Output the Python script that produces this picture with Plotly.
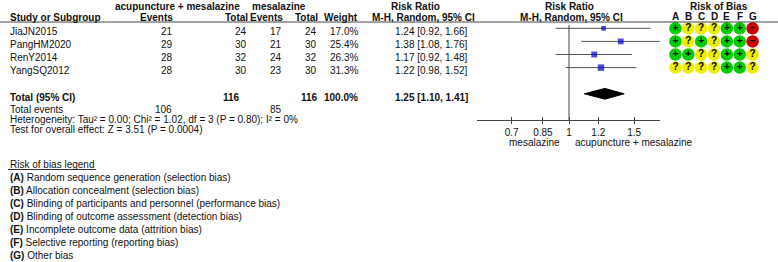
import plotly.graph_objects as go

# ---------------- data ----------------
studies = ["JiaJN2015", "PangHM2020", "RenY2014", "YangSQ2012"]
exp_events = [21, 29, 28, 28]
exp_total = [24, 30, 32, 30]
ctl_events = [17, 21, 24, 23]
ctl_total = [24, 30, 32, 30]
weights = [17.0, 25.4, 26.3, 31.3]
rr = [1.24, 1.38, 1.17, 1.22]
ci_low = [0.92, 1.08, 0.92, 0.98]
ci_high = [1.66, 1.76, 1.48, 1.52]

total_exp = 116
total_ctl = 116
total_weight = "100.0%"
total_events_exp = 106
total_events_ctl = 85
pooled_rr = 1.25
pooled_low = 1.10
pooled_high = 1.41
heterogeneity = "Heterogeneity: Tau² = 0.00; Chi² = 1.02, df = 3 (P = 0.80); I² = 0%"
overall_test = "Test for overall effect: Z = 3.51 (P = 0.0004)"

tick_vals = [0.7, 0.85, 1, 1.2, 1.5]
tick_text = ["0.7", "0.85", "1", "1.2", "1.5"]
favours_left = "mesalazine"
favours_right = "acupuncture + mesalazine"
exp_label = "acupuncture + mesalazine"
ctl_label = "mesalazine"

rob_domains = ["A", "B", "C", "D", "E", "F", "G"]
rob = [
    ["+", "?", "?", "?", "+", "+", "-"],
    ["+", "?", "+", "?", "+", "+", "-"],
    ["+", "+", "?", "?", "+", "+", "?"],
    ["?", "?", "?", "?", "+", "+", "?"],
]
legend_title = "Risk of bias legend"
legend_items = [
    ("A", "Random sequence generation (selection bias)"),
    ("B", "Allocation concealment (selection bias)"),
    ("C", "Blinding of participants and personnel (performance bias)"),
    ("D", "Blinding of outcome assessment (detection bias)"),
    ("E", "Incomplete outcome data (attrition bias)"),
    ("F", "Selective reporting (reporting bias)"),
    ("G", "Other bias"),
]

# ---------------- layout helpers ----------------
W, H = 778, 262
FONT = "Liberation Sans, Arial, sans-serif"
TXT = "#111111"


def px(x):
    return x / W


def py(y):
    return 1 - y / H


annotations = []


def add_text(text, x, y, anchor="left", bold=False, size=10):
    if bold:
        text = "<b>" + text + "</b>"
    annotations.append(dict(
        text=text, x=px(x), y=py(y), xref="paper", yref="paper",
        xanchor=anchor, yanchor="middle", showarrow=False,
        font=dict(family=FONT, size=size, color=TXT),
    ))


# header rows
add_text(exp_label, 177.5, 7, "center", True)
add_text(ctl_label, 279, 7, "center", True)
add_text("Risk Ratio", 415, 7, "center", True)
add_text("Risk Ratio", 569, 7, "center", True)
add_text("Risk of Bias", 719, 7, "center", True)

add_text("Study or Subgroup", 8, 17, "left", True)
add_text("Events", 175, 17, "right", True)
add_text("Total", 250, 17, "right", True)
add_text("Events", 285, 17, "right", True)
add_text("Total", 319.5, 17, "right", True)
add_text("Weight", 360, 17, "right", True)
add_text("M-H, Random, 95% CI", 423, 17, "center", True)
add_text("M-H, Random, 95% CI", 571.5, 17, "center", True)

# study rows
for i, s in enumerate(studies):
    y = 31.7 + 12.9 * i
    add_text(s, 8, y, "left")
    add_text(str(exp_events[i]), 174.5, y, "right")
    add_text(str(exp_total[i]), 248.5, y, "right")
    add_text(str(ctl_events[i]), 283.5, y, "right")
    add_text(str(ctl_total[i]), 319, y, "right")
    add_text(f"{weights[i]:.1f}%", 359.5, y, "right")
    add_text(f"{rr[i]:.2f} [{ci_low[i]:.2f}, {ci_high[i]:.2f}]", 470, y, "right")

# totals
add_text("Total (95% CI)", 8, 97.3, "left", True)
add_text(str(total_exp), 242, 97.3, "right", True)
add_text(str(total_ctl), 320, 97.3, "right", True)
add_text(total_weight, 360, 97.3, "right", True)
add_text(f"{pooled_rr:.2f} [{pooled_low:.2f}, {pooled_high:.2f}]", 470, 97.3, "right", True)
add_text("Total events", 8, 109.3, "left")
add_text(str(total_events_exp), 174, 109.3, "right")
add_text(str(total_events_ctl), 283.5, 109.3, "right")
add_text(heterogeneity, 8, 119.5, "left")
add_text(overall_test, 8, 129.5, "left")

# favours labels
add_text(favours_left, 562, 142, "right")
add_text(favours_right, 573, 142, "left")

# legend
add_text(legend_title, 8, 164, "left")
for j, (letter, desc) in enumerate(legend_items):
    add_text(f"<b>({letter})</b> {desc}", 8, 177 + 13.15 * j, "left")

# RoB column letters
for k, d in enumerate(rob_domains):
    annotations.append(dict(
        text="<b>" + d + "</b>", x=d, y=py(16.5), xref="x3", yref="paper",
        xanchor="center", yanchor="middle", showarrow=False,
        font=dict(family=FONT, size=10, color=TXT),
    ))

# ---------------- traces ----------------
fig = go.Figure()

# CI lines
xs, ys = [], []
for i in range(len(studies)):
    xs += [ci_low[i], ci_high[i], None]
    ys += [i, i, None]
fig.add_trace(go.Scatter(x=xs, y=ys, mode="lines", line=dict(color="#555555", width=1),
                         xaxis="x", yaxis="y", hoverinfo="skip", showlegend=False))

# squares
fig.add_trace(go.Scatter(
    x=rr, y=list(range(len(studies))), mode="markers",
    marker=dict(symbol="square", color="#0000cc", size=[1.15 * w ** 0.5 for w in weights], line=dict(width=0)),
    xaxis="x", yaxis="y", hoverinfo="skip", showlegend=False))

# diamond
trow = 5
h = 0.41
fig.add_trace(go.Scatter(
    x=[pooled_low, pooled_rr, pooled_high, pooled_rr, pooled_low],
    y=[trow, trow - h, trow, trow + h, trow],
    mode="lines", fill="toself", fillcolor="#000000", line=dict(color="#000000", width=1),
    xaxis="x", yaxis="y", hoverinfo="skip", showlegend=False))

# invisible trace for overlay tick axis
fig.add_trace(go.Scatter(x=[1], y=[0], mode="markers", marker=dict(opacity=0),
                         xaxis="x2", yaxis="y", hoverinfo="skip", showlegend=False))

# risk of bias circles
color_map = {"+": "#00cc00", "?": "#eeee00", "-": "#cc0000"}
sym_map = {"+": "+", "?": "?", "-": "−"}
cx, cy, cc, ct = [], [], [], []
for i, row in enumerate(rob):
    for k, v in enumerate(row):
        cx.append(rob_domains[k])
        cy.append(i)
        cc.append(color_map[v])
        ct.append("<b>" + sym_map[v] + "</b>")
fig.add_trace(go.Scatter(
    x=cx, y=cy, mode="markers+text", text=ct, textposition="middle center",
    textfont=dict(family=FONT, size=10, color="#000000"),
    marker=dict(symbol="circle", size=12.5, color=cc, line=dict(width=0)),
    xaxis="x3", yaxis="y", hoverinfo="skip", showlegend=False))

# ---------------- layout ----------------
xr = [-0.2487, 0.2460]
shapes = [
    dict(type="line", xref="paper", yref="paper", x0=0, x1=1, y0=py(22), y1=py(22),
         line=dict(color="#444444", width=1)),
    dict(type="line", xref="x", yref="y domain", x0=1, x1=1, y0=0, y1=0.97,
         line=dict(color="#444444", width=1)),
    dict(type="line", xref="paper", yref="paper", x0=px(8), x1=px(96), y0=py(169.5), y1=py(169.5),
         line=dict(color="#333333", width=1)),
]

fig.update_layout(
    width=W, height=H,
    margin=dict(l=0, r=0, t=0, b=0),
    paper_bgcolor="white", plot_bgcolor="rgba(0,0,0,0)",
    showlegend=False,
    font=dict(family=FONT, size=10, color=TXT),
    xaxis=dict(domain=[px(477), px(660)], type="log", range=xr, anchor="y",
               showline=True, linecolor="#444444", linewidth=1,
               ticks="outside", ticklen=3, tickcolor="#444444", tickwidth=1,
               tickvals=tick_vals, ticktext=tick_text, showgrid=False, zeroline=False,
               tickfont=dict(family=FONT, size=10, color=TXT), fixedrange=True),
    xaxis2=dict(overlaying="x", type="log", range=xr, anchor="y", side="bottom",
                ticks="inside", ticklen=3, tickcolor="#444444", tickwidth=1,
                tickvals=tick_vals, showticklabels=False, showline=False,
                showgrid=False, zeroline=False, fixedrange=True),
    xaxis3=dict(domain=[px(669), px(759)], range=[-0.5, 6.5], type="category",
                categoryorder="array", categoryarray=rob_domains,
                anchor="y", visible=False, fixedrange=True),
    yaxis=dict(domain=[py(120), py(22)], range=[7.0, -0.481], visible=False, fixedrange=True),
    annotations=annotations,
    shapes=shapes,
)

fig.write_html(
    "out.html",
    config={"displayModeBar": False},
    post_script="document.body.style.margin='0';document.body.style.overflow='hidden';",
)
